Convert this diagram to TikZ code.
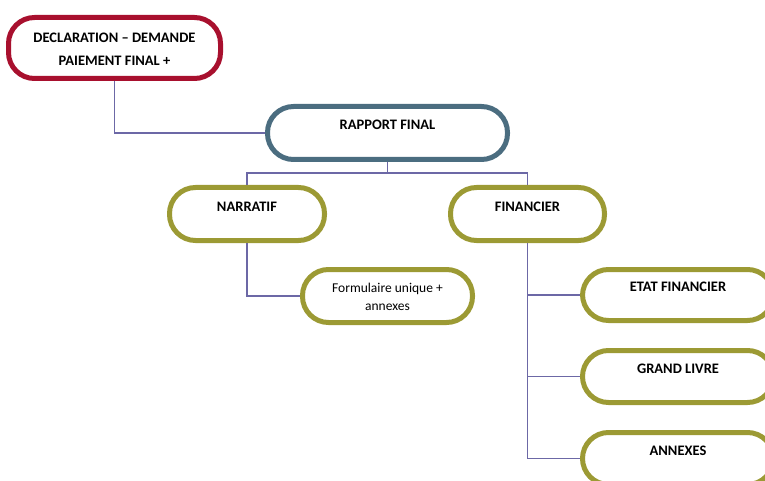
\documentclass[tikz,border=0pt]{standalone}
\usepackage{fontspec}
\setmainfont{Carlito}
\definecolor{redb}{HTML}{A8102E}
\definecolor{blueb}{HTML}{4B6D80}
\definecolor{oliveb}{HTML}{9C9A34}
\definecolor{conn}{HTML}{6C68A6}
\tikzset{
  pill/.style={draw=#1, line width=5pt, rounded corners=26pt, fill=white, inner sep=0pt},
  lbl/.style={font=\fontsize{14.5}{16}\selectfont\bfseries, align=center, inner sep=0pt},
  conline/.style={draw=conn, line width=1.5pt}
}
\begin{document}
\begin{tikzpicture}[x=1pt,y=-1pt]
\useasboundingbox (0,0) rectangle (765,481);
\clip (0,0) rectangle (765,481);
\node[pill=redb, minimum width=212pt, minimum height=61pt] (decl) at (114.5,48) {};
\node[pill=blueb, minimum width=240pt, minimum height=53pt] (rap) at (387.5,133) {};
\node[pill=oliveb, minimum width=155pt, minimum height=53pt] (narr) at (247,214) {};
\node[pill=oliveb, minimum width=154pt, minimum height=53pt] (fin) at (527.5,214) {};
\node[pill=oliveb, minimum width=170pt, minimum height=53pt] (form) at (387.5,296) {};
\node[pill=oliveb, minimum width=191pt, minimum height=51pt] (etat) at (678,295) {};
\node[pill=oliveb, minimum width=191pt, minimum height=52pt] (grand) at (678,376.5) {};
\node[pill=oliveb, minimum width=191pt, minimum height=52pt] (annex) at (678,458.5) {};
\coordinate (j) at (387.5,173);
\draw[conline] (decl.south) |- (rap.west);
\draw[conline] (rap.south) -- (j);
\draw[conline] (narr.north) |- (j) -| (fin.north);
\draw[conline] (narr.south) |- (form.west);
\draw[conline] (fin.south) |- (etat.west);
\draw[conline] (fin.south) |- (grand.west);
\draw[conline] (fin.south) |- (annex.west);
% labels
\node[lbl, font=\fontsize{14.5}{23}\selectfont\bfseries] (tdecl) at (114.5,49.5) {DECLARATION – DEMANDE\\PAIEMENT FINAL +};
\node[lbl] (trap) at (387.5,125) {RAPPORT FINAL};
\node[lbl] (tnarr) at (247,207) {NARRATIF};
\node[lbl] (tfin) at (527.5,207) {FINANCIER};
\node[lbl, font=\fontsize{13.5}{18}\selectfont] (tform) at (387.5,297) {Formulaire unique +\\annexes};
\node[lbl] (tetat) at (678,287) {ETAT FINANCIER};
\node[lbl] (tgrand) at (678,369) {GRAND LIVRE};
\node[lbl] (tannex) at (678,451) {ANNEXES};
\end{tikzpicture}
\end{document}
